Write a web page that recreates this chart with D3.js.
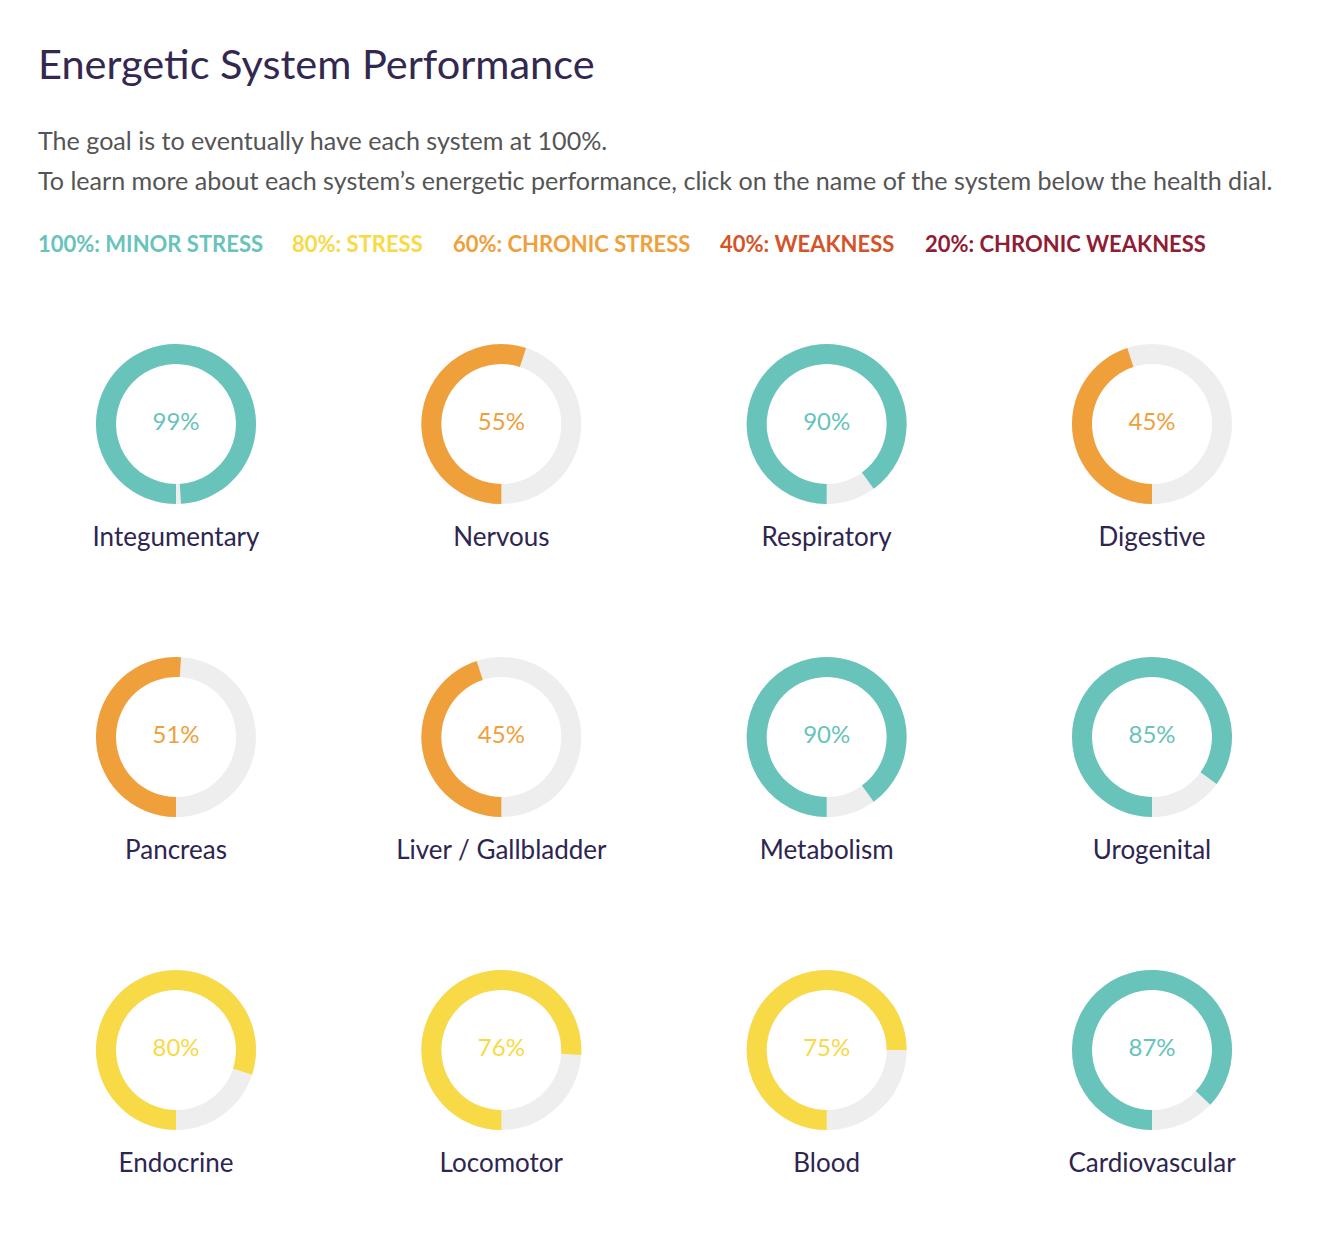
<!DOCTYPE html>
<html lang="en">
<head>
    <meta charset="UTF-8">
    <title>Energetic System Performance</title>
    <script src="https://d3js.org/d3.v7.min.js"></script>
    <style>
        body {
            margin: 0;
            background: #fff;
            font-family: Lato, "Open Sans", sans-serif;
        }
        svg text {
            font-family: Lato, "Open Sans", sans-serif;
        }
    </style>
</head>
<body>

<div id="chart"></div>

<script>
// Systems and their scores
const systems = ["Integumentary", "Nervous", "Respiratory", "Digestive",
                 "Pancreas", "Liver / Gallbladder", "Metabolism", "Urogenital",
                 "Endocrine", "Locomotor", "Blood", "Cardiovascular"];
const scores = [99, 55, 90, 45, 51, 45, 90, 85, 80, 76, 75, 87];

// Legend levels
const levelLabels = ["100%: MINOR STRESS", "80%: STRESS", "60%: CHRONIC STRESS", "40%: WEAKNESS", "20%: CHRONIC WEAKNESS"];
const levelColors = ["#68c3bb", "#f8d946", "#f0a03b", "#d4542a", "#8f1d35"];

const subtitleLines = [
    "The goal is to eventually have each system at 100%.",
    "To learn more about each system\u2019s energetic performance, click on the name of the system below the health dial."
];

const W = 1320, H = 1246;

const svg = d3.select("#chart")
    .append("svg")
    .attr("width", W)
    .attr("height", H);

// Title
svg.append("text")
    .attr("x", 38)
    .attr("y", 79)
    .attr("fill", "#33284f")
    .style("font-size", "41.5px")
    .text("Energetic System Performance");

// Subtitle
svg.selectAll("text.sub")
    .data(subtitleLines)
    .enter().append("text")
    .attr("class", "sub")
    .attr("x", 38)
    .attr("y", (d, i) => 150 + i * 40)
    .attr("fill", "#555555")
    .style("font-size", "25.1px")
    .text(d => d);

// Legend
const legendX = [38, 292, 453, 720, 925];
svg.selectAll("text.legend")
    .data(levelLabels)
    .enter().append("text")
    .attr("class", "legend")
    .attr("x", (d, i) => legendX[i])
    .attr("y", 252)
    .attr("fill", (d, i) => levelColors[i])
    .style("font-size", "22px")
    .style("font-weight", "bold")
    .text(d => d);

// Color by score
const color = d3.scaleThreshold()
    .domain([20, 40, 65, 81])
    .range(levelColors.slice().reverse());

// Grid layout
const x = d3.scalePoint()
    .domain([0, 1, 2, 3])
    .range([176, 1152]);
const y = d3.scalePoint()
    .domain([0, 1, 2])
    .range([424, 1050]);

const outerR = 80, innerR = 60;
const arc = d3.arc()
    .innerRadius(innerR)
    .outerRadius(outerR);

// dial starts at 6 o'clock and runs clockwise
const angle = d3.scaleLinear()
    .domain([0, 100])
    .range([Math.PI, 3 * Math.PI]);

const dials = svg.selectAll("g.dial")
    .data(systems.map((name, i) => ({name: name, value: scores[i], i: i})))
    .enter().append("g")
    .attr("class", "dial")
    .attr("transform", d => `translate(${x(d.i % 4)},${y(Math.floor(d.i / 4))})`);

// background track
dials.append("path")
    .attr("fill", "#eeeeee")
    .attr("d", arc({startAngle: 0, endAngle: 2 * Math.PI}));

// value arc
dials.append("path")
    .attr("fill", d => color(d.value))
    .attr("d", d => arc({startAngle: angle(0), endAngle: angle(d.value)}));

// percent text
dials.append("text")
    .attr("text-anchor", "middle")
    .attr("y", 6)
    .attr("fill", d => color(d.value))
    .style("font-size", "24px")
    .text(d => d.value + "%");

// system name
dials.append("text")
    .attr("text-anchor", "middle")
    .attr("y", 122)
    .attr("fill", "#2e2550")
    .style("font-size", "26px")
    .text(d => d.name);
</script>

</body>
</html>
